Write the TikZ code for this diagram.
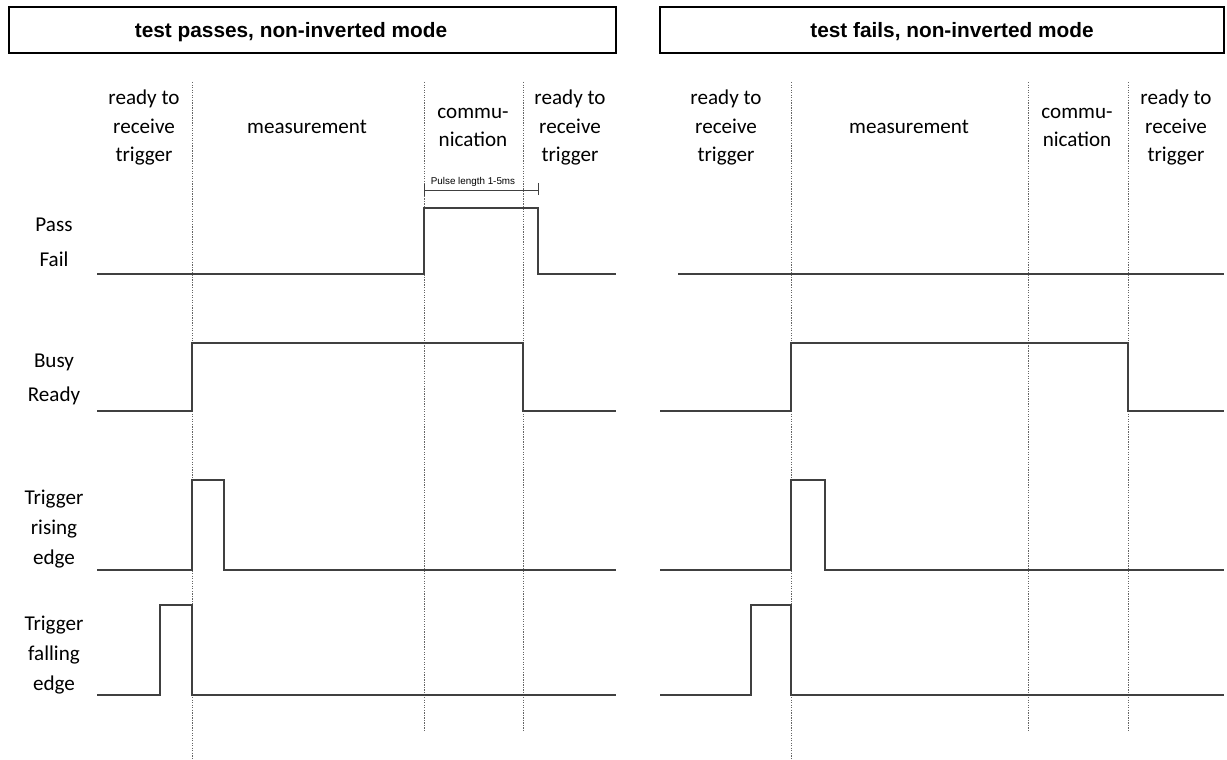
\documentclass[tikz,border=0pt]{standalone}
\usepackage{fontspec}
\setmainfont{Carlito}
\newfontfamily\arialfont{Liberation Sans}

\begin{document}
\begin{tikzpicture}[x=0.025cm,y=-0.025cm]
\tikzstyle{every node}+=[inner sep=0pt]
\tikzstyle{signal}=[black!75, line width=1pt]
\tikzstyle{phase}=[black!60, line width=0.6pt, dash pattern=on 0.9pt off 0.9pt]
\tikzstyle{lbl}=[align=center, font=\fontsize{15}{20.3}\selectfont]
\tikzstyle{siglbl}=[align=center, font=\fontsize{15}{21.3}\selectfont]
\tikzstyle{titlebox}=[black, line width=1pt]
\tikzstyle{titletext}=[font=\arialfont\bfseries\fontsize{14.8}{17}\selectfont]
\useasboundingbox (0,0) rectangle (1227,760);

% left panel: test passes
\draw [titlebox] (9,7) rectangle (616,53);
\node [titletext] (titleL) at (291,32) {test passes, non-inverted mode};

\draw [phase] (192,82) -- (192,758);
\draw [phase] (424,82) -- (424,730);
\draw [phase] (523,82) -- (523,730);

\node [lbl] (readyL) at (144,127.5) {ready to\\receive\\trigger};
\node [lbl] (measL) at (307,126.5) {measurement};
\node [lbl] (commL) at (473,127.5) {commu-\\nication};
\node [lbl] (againL) at (570,127.5) {ready to\\receive\\trigger};

\node [lbl] (pass) at (54,225) {Pass};
\node [lbl] (fail) at (54,259) {Fail};
\node [lbl] (busy) at (54,362) {Busy};
\node [lbl] (ready) at (54,396) {Ready};
\node [siglbl] (rising) at (54,529) {Trigger\\rising\\edge};
\node [siglbl] (falling) at (54,655) {Trigger\\falling\\edge};

\draw [signal] (97,274) -- (424,274) -- (424,208) -- (538,208) -- (538,274) -- (616,274);
\draw [signal] (97,411) -- (192,411) -- (192,343) -- (523,343) -- (523,411) -- (616,411);
\draw [signal] (97,570) -- (192,570) -- (192,480) -- (224,480) -- (224,570) -- (616,570);
\draw [signal] (97,695) -- (160,695) -- (160,605) -- (192,605) -- (192,695) -- (616,695);

% pulse length
\draw [black!75, line width=0.7pt] (424,190) -- (538,190);
\draw [black!75, line width=0.7pt] (424,184) -- (424,196);
\draw [black!75, line width=0.7pt] (538,183) -- (538,195);
\node [font=\arialfont\fontsize{7}{8}\selectfont] (pulse) at (473,182) {Pulse length 1-5ms};

% right panel: test fails
\draw [titlebox] (660,7) rectangle (1224,53);
\node [titletext] (titleR) at (952,32) {test fails, non-inverted mode};

\draw [phase] (791,82) -- (791,758);
\draw [phase] (1028,82) -- (1028,730);
\draw [phase] (1128,82) -- (1128,730);

\node [lbl] (readyR) at (726,127.5) {ready to\\receive\\trigger};
\node [lbl] (measR) at (909,126.5) {measurement};
\node [lbl] (commR) at (1077,127.5) {commu-\\nication};
\node [lbl] (againR) at (1176,127.5) {ready to\\receive\\trigger};

\draw [signal] (678,274) -- (1224,274);
\draw [signal] (660,411) -- (791,411) -- (791,343) -- (1128,343) -- (1128,411) -- (1224,411);
\draw [signal] (660,570) -- (791,570) -- (791,480) -- (825,480) -- (825,570) -- (1224,570);
\draw [signal] (660,695) -- (751,695) -- (751,605) -- (791,605) -- (791,695) -- (1224,695);
\end{tikzpicture}
\end{document}
